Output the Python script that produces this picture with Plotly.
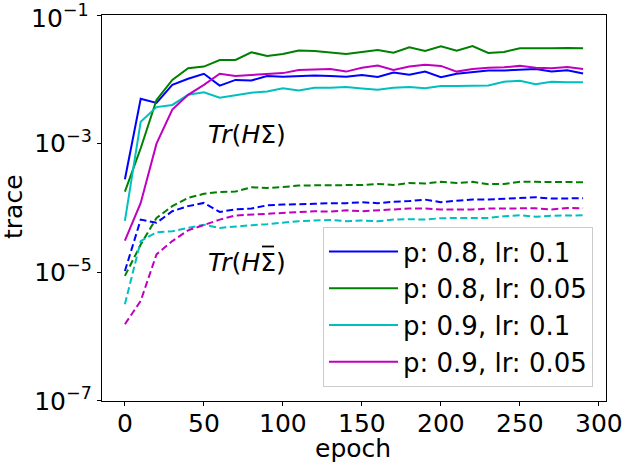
import plotly.graph_objects as go

epochs = list(range(0, 300, 10))

labels = ["p: 0.8, lr: 0.1", "p: 0.8, lr: 0.05", "p: 0.9, lr: 0.1", "p: 0.9, lr: 0.05"]
colors = ["#0000ff", "#008000", "#00bfbf", "#bf00bf"]

# Tr(H Sigma) -- solid lines
tr_sigma_p08_lr01 = [2.8e-4, 5.0e-3, 4.3e-3, 8.2e-3, 1.02e-2, 1.22e-2, 8.0e-3, 9.8e-3, 9.6e-3, 1.13e-2,
                     1.1e-2, 1.13e-2, 1.15e-2, 1.13e-2, 1.1e-2, 1.17e-2, 1.09e-2, 1.28e-2, 1.18e-2, 1.32e-2,
                     1.08e-2, 1.22e-2, 1.28e-2, 1.37e-2, 1.37e-2, 1.42e-2, 1.45e-2, 1.32e-2, 1.38e-2, 1.23e-2]
tr_sigma_p08_lr005 = [1.8e-4, 8.5e-4, 4.8e-3, 9.8e-3, 1.49e-2, 1.58e-2, 2.0e-2, 2.0e-2, 2.64e-2, 2.31e-2,
                      2.48e-2, 2.8e-2, 2.77e-2, 2.6e-2, 2.48e-2, 2.67e-2, 2.86e-2, 2.6e-2, 3.16e-2, 2.77e-2,
                      3.27e-2, 2.8e-2, 3.3e-2, 2.58e-2, 2.67e-2, 3.04e-2, 3.0e-2, 3.04e-2, 3.07e-2, 3.04e-2]
tr_sigma_p09_lr01 = [6.3e-5, 2.2e-3, 3.7e-3, 4.0e-3, 5.75e-3, 6.3e-3, 5.2e-3, 5.75e-3, 6.2e-3, 6.5e-3,
                     7.3e-3, 6.7e-3, 7.4e-3, 7.4e-3, 7.6e-3, 7.2e-3, 6.9e-3, 7.4e-3, 7.6e-3, 7.3e-3,
                     7.9e-3, 7.9e-3, 7.9e-3, 8.0e-3, 9.2e-3, 9.5e-3, 8.4e-3, 9.2e-3, 9.0e-3, 9.0e-3]
tr_sigma_p09_lr005 = [3.1e-5, 1.2e-4, 1.0e-3, 3.4e-3, 5.75e-3, 8.2e-3, 1.22e-2, 1.13e-2, 1.17e-2, 1.22e-2,
                      1.25e-2, 1.4e-2, 1.43e-2, 1.45e-2, 1.32e-2, 1.52e-2, 1.64e-2, 1.4e-2, 1.58e-2, 1.68e-2,
                      1.62e-2, 1.32e-2, 1.45e-2, 1.52e-2, 1.54e-2, 1.62e-2, 1.52e-2, 1.49e-2, 1.55e-2, 1.45e-2]

# Tr(H Sigma-bar) -- dashed lines
tr_sigbar_p08_lr01 = [1.05e-5, 6.6e-5, 5.9e-5, 8.9e-5, 1.07e-4, 1.2e-4, 8.7e-5, 9.5e-5, 9.8e-5, 1.1e-4,
                      1.13e-4, 1.16e-4, 1.16e-4, 1.19e-4, 1.19e-4, 1.23e-4, 1.19e-4, 1.25e-4, 1.28e-4, 1.35e-4,
                      1.23e-4, 1.3e-4, 1.35e-4, 1.35e-4, 1.38e-4, 1.44e-4, 1.47e-4, 1.4e-4, 1.42e-4, 1.42e-4]
tr_sigbar_p08_lr005 = [8.8e-6, 2.7e-5, 7.0e-5, 1.07e-4, 1.44e-4, 1.66e-4, 1.78e-4, 1.8e-4, 2.1e-4, 2.05e-4,
                       2.12e-4, 2.23e-4, 2.25e-4, 2.25e-4, 2.28e-4, 2.28e-4, 2.37e-4, 2.28e-4, 2.45e-4, 2.4e-4,
                       2.55e-4, 2.45e-4, 2.55e-4, 2.35e-4, 2.37e-4, 2.55e-4, 2.55e-4, 2.55e-4, 2.55e-4, 2.52e-4]
tr_sigbar_p09_lr01 = [3.2e-6, 3.06e-5, 4.2e-5, 4.35e-5, 4.9e-5, 5.5e-5, 4.9e-5, 5.2e-5, 5.4e-5, 5.6e-5,
                      5.9e-5, 6.25e-5, 6.4e-5, 6.5e-5, 6.25e-5, 6.4e-5, 6.2e-5, 6.6e-5, 6.7e-5, 6.6e-5,
                      6.95e-5, 6.9e-5, 7.0e-5, 7.0e-5, 7.45e-5, 7.7e-5, 7.3e-5, 7.6e-5, 7.7e-5, 7.7e-5]
tr_sigbar_p09_lr005 = [1.56e-6, 3.6e-6, 1.9e-5, 3.06e-5, 4.5e-5, 5.5e-5, 6.6e-5, 7.65e-5, 7.9e-5, 8.1e-5,
                       8.4e-5, 8.7e-5, 8.9e-5, 8.8e-5, 9.2e-5, 8.9e-5, 9.1e-5, 9.5e-5, 9.8e-5, 9.8e-5,
                       9.5e-5, 9.5e-5, 9.5e-5, 9.8e-5, 9.9e-5, 1.0e-4, 9.9e-5, 9.5e-5, 1.0e-4, 9.9e-5]

solid_series = [tr_sigma_p08_lr01, tr_sigma_p08_lr005, tr_sigma_p09_lr01, tr_sigma_p09_lr005]
dashed_series = [tr_sigbar_p08_lr01, tr_sigbar_p08_lr005, tr_sigbar_p09_lr01, tr_sigbar_p09_lr005]

y_tickvals = [1e-7, 1e-5, 1e-3, 1e-1]
y_ticktext = ["10<sup>\u22127</sup>", "10<sup>\u22125</sup>", "10<sup>\u22123</sup>", ""]
y_top_label = "10<sup>\u22121</sup>"
x_tickvals = [0, 50, 100, 150, 200, 250, 300]

FONT = "DejaVu Sans"
FS = 25

W, H = 630, 468
ML, MR, MT, MB = 102, 24, 15, 67
PW, PH = W - ML - MR, H - MT - MB


def px_x(px):
    return (px - ML) / PW


def px_y(py):
    return (H - MB - py) / PH


fig = go.Figure()
for ys, c, lab in zip(solid_series, colors, labels):
    fig.add_trace(go.Scatter(x=epochs, y=ys, mode="lines", name=lab,
                             line=dict(color=c, width=2)))
for ys, c, lab in zip(dashed_series, colors, labels):
    fig.add_trace(go.Scatter(x=epochs, y=ys, mode="lines", name=lab, showlegend=False,
                             line=dict(color=c, width=2, dash="7px,3.5px")))

fig.add_annotation(x=px_x(206), y=px_y(134), xref="paper", yref="paper",
                   text="<i>Tr</i>(<i>H</i>\u03a3)", showarrow=False,
                   font=dict(family=FONT, size=FS, color="black"), xanchor="left", yanchor="middle")
fig.add_annotation(x=px_x(206), y=px_y(262), xref="paper", yref="paper",
                   text="<i>Tr</i>(<i>H</i>\u03a3)", showarrow=False,
                   font=dict(family=FONT, size=FS, color="black"), xanchor="left", yanchor="middle")
# the bar over Sigma (Sigma-bar)
fig.add_shape(type="line", xref="paper", yref="paper",
              x0=px_x(262), x1=px_x(274), y0=px_y(246.5), y1=px_y(246.5),
              line=dict(color="black", width=1.8))

# top y tick label
fig.add_annotation(x=px_x(91), y=px_y(16), xref="paper", yref="paper", text=y_top_label,
                   showarrow=False, font=dict(family=FONT, size=FS, color="black"),
                   xanchor="right", yanchor="middle")

# axis titles
fig.add_annotation(x=px_x(353), y=px_y(448), xref="paper", yref="paper", text="epoch",
                   showarrow=False, font=dict(family=FONT, size=FS, color="black"),
                   xanchor="center", yanchor="middle")
fig.add_annotation(x=px_x(13), y=px_y(207), xref="paper", yref="paper", text="trace",
                   showarrow=False, textangle=-90, font=dict(family=FONT, size=FS, color="black"),
                   xanchor="center", yanchor="middle")

fig.update_layout(
    width=W, height=H,
    margin=dict(l=ML, r=MR, t=MT, b=MB, autoexpand=False),
    paper_bgcolor="white", plot_bgcolor="white",
    font=dict(family=FONT, size=FS, color="black"),
    showlegend=True,
    legend=dict(x=px_x(323), y=px_y(227), xanchor="left", yanchor="top",
                bgcolor="rgba(255,255,255,0.8)", bordercolor="#cccccc", borderwidth=1,
                font=dict(family=FONT, size=26, color="black"), itemwidth=69),
    xaxis=dict(range=[-14.5, 304.5], tickvals=x_tickvals, ticks="outside", ticklen=4,
               tickwidth=1.3, tickcolor="black", showline=True, linecolor="black", linewidth=1.3,
               mirror=True, showgrid=False, zeroline=False, automargin=False,
               ticklabelstandoff=-4,
               tickfont=dict(family=FONT, size=FS)),
    yaxis=dict(type="log", range=[-7.0005, -0.9995], tickvals=y_tickvals, ticktext=y_ticktext,
               ticks="outside", ticklen=4, tickwidth=1.3, tickcolor="black",
               showline=True, linecolor="black", linewidth=1.3, mirror=True,
               showgrid=False, zeroline=False, automargin=False,
               tickfont=dict(family=FONT, size=FS)),
)

fig.write_html("out.html", post_script="document.body.style.margin='0';",
               config={"displayModeBar": False})
